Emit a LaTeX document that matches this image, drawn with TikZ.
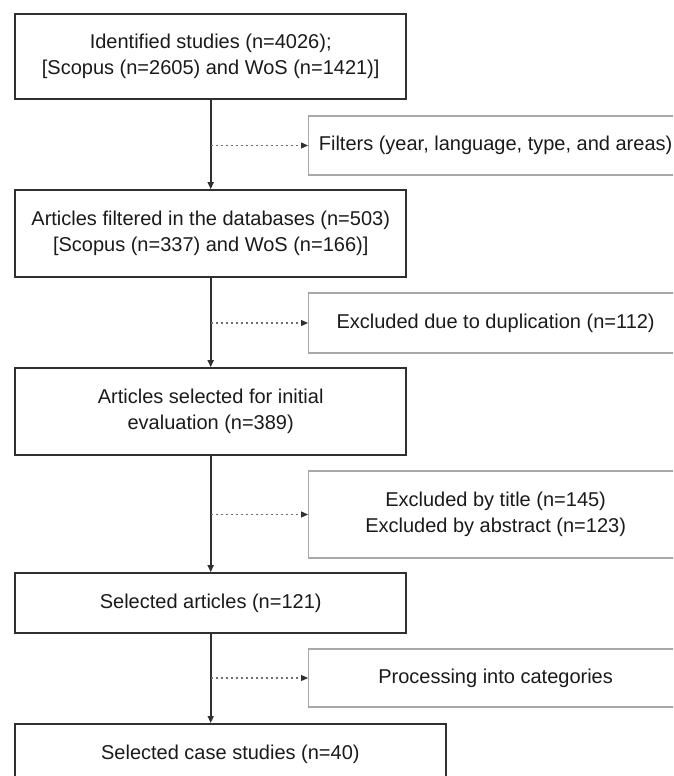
\documentclass[tikz,border=0pt]{standalone}
\usepackage{fontspec}
\setmainfont{Liberation Sans}
\usetikzlibrary{arrows.meta}
\definecolor{txt}{HTML}{1A1A1A}
\definecolor{mainline}{HTML}{303030}
\definecolor{sideline}{HTML}{A8A8A8}
\definecolor{dotline}{HTML}{6E6E6E}
\tikzset{
  mainbox/.style={draw=mainline, line width=1.7pt, rectangle, align=center, inner sep=0pt,
    text=txt, font=\fontsize{20}{25.5}\selectfont},
  sidebox/.style={draw=sideline, line width=1.2pt, rectangle, align=center, inner sep=0pt,
    text=txt, font=\fontsize{20}{25.5}\selectfont, minimum width=374pt},
  mainarrow/.style={draw=mainline, line width=1.6pt, -{Triangle[length=7pt,width=6pt]}},
  dotarrow/.style={draw=dotline, line width=1.2pt, dash pattern=on 2.5pt off 2.5pt,
    -{Triangle[length=7pt,width=6pt,fill=mainline,color=mainline]}}
}
\begin{document}
\begin{tikzpicture}[x=1pt,y=-1pt]
\useasboundingbox (0,0) rectangle (673,776);
\clip (0,0) rectangle (673,776);
\node[mainbox, minimum width=391pt, minimum height=85pt] (b1) at (210.7,56.5)
  {Identified studies (n=4026);\\\relax [Scopus (n=2605) and WoS (n=1421)]};
\node[mainbox, minimum width=391pt, minimum height=87pt] (b2) at (210.7,233.5)
  {Articles filtered in the databases (n=503)\\\relax [Scopus (n=337) and WoS (n=166)]};
\node[mainbox, minimum width=391pt, minimum height=87pt] (b3) at (210.7,411.5)
  {Articles selected for initial\\evaluation (n=389)};
\node[mainbox, minimum width=391pt, minimum height=60pt] (b4) at (210.7,603)
  {Selected articles (n=121)};
\node[mainbox, minimum width=431pt, minimum height=60pt, anchor=north west] (b5) at (14,723)
  {Selected case studies (n=40)};
\node[sidebox, minimum height=59pt, anchor=west] (s1) at (308,145.5)
  {Filters (year, language, type, and areas)};
\node[sidebox, minimum height=60pt, anchor=west] (s2) at (308,323)
  {Excluded due to duplication (n=112)};
\node[sidebox, minimum height=87pt, anchor=west] (s3) at (308,514.5)
  {Excluded by title (n=145)\\Excluded by abstract (n=123)};
\node[sidebox, minimum height=58pt, anchor=west] (s4) at (308,678)
  {Processing into categories};
\draw[mainarrow] (b1.south) -- (b2.north);
\draw[mainarrow] (b2.south) -- (b3.north);
\draw[mainarrow] (b3.south) -- (b4.north);
\draw[mainarrow] (b4.south) -- (b4.south |- b5.north);
\draw[dotarrow] (b1.south |- s1.west) -- (s1.west);
\draw[dotarrow] (b2.south |- s2.west) -- (s2.west);
\draw[dotarrow] (b3.south |- s3.west) -- (s3.west);
\draw[dotarrow] (b4.south |- s4.west) -- (s4.west);
\end{tikzpicture}
\end{document}
